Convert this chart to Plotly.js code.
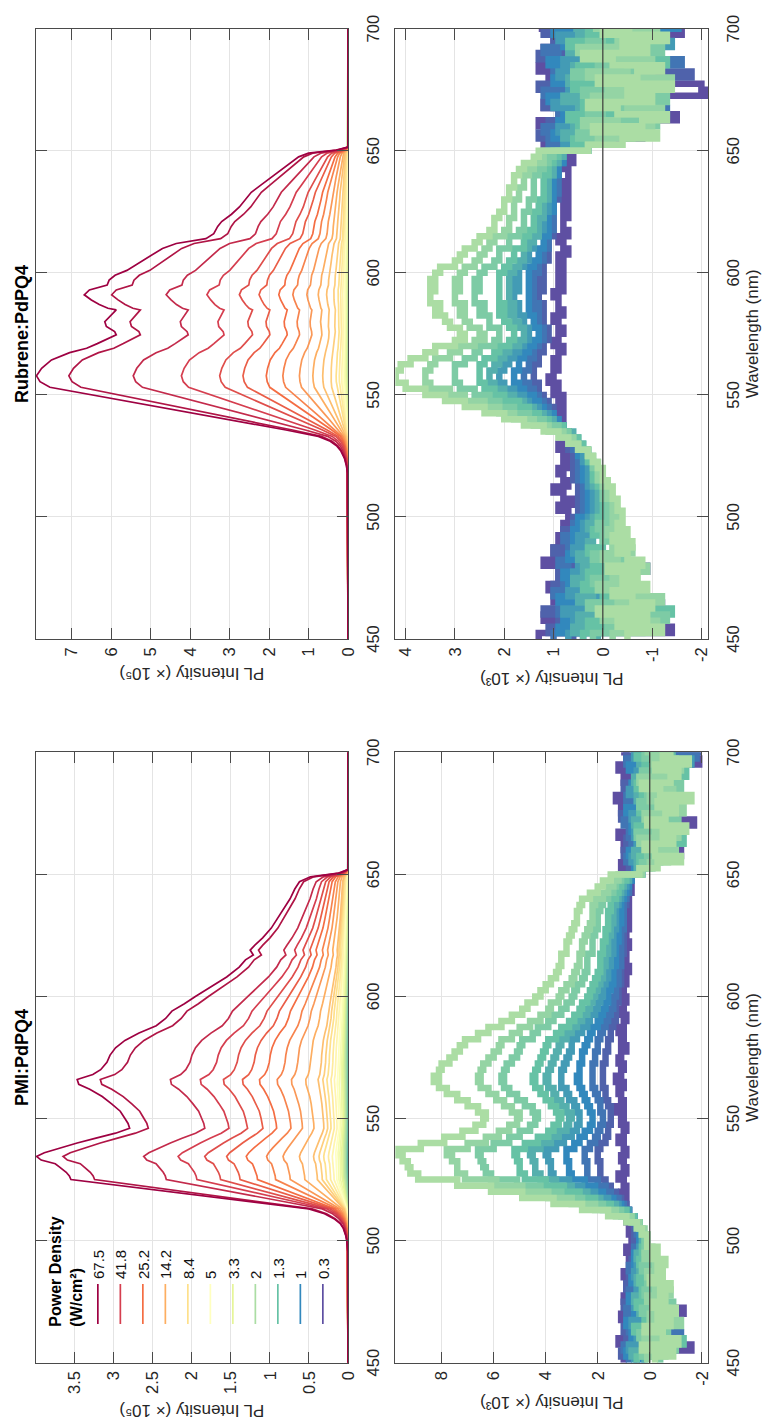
<!DOCTYPE html>
<html>
<head>
<meta charset="utf-8">
<script src="https://cdn.plot.ly/plotly-3.0.1.min.js"></script>
<style>
  html, body { margin: 0; padding: 0; background: #fff; width: 762px; height: 1425px; overflow: hidden; }
  #wrap { position: absolute; left: 0; top: 0; width: 1425px; height: 762px; transform-origin: 0 0; }
  #chart { width: 1425px; height: 762px; }
</style>
</head>
<body>
<div id="wrap"><div id="chart"></div></div>
<script>
// ---------------- data ----------------
const wavelengthTicks = [450, 500, 550, 600, 650, 700];
const powerLegend = ['67.5', '41.8', '25.2', '14.2', '8.4', '5', '3.3', '2', '1.3', '1', '0.3'];

// PMI:PdPQ4 spectra: wavelength grid and the highest-power curve (x10^5)
const pmiSpecWl = [450,495,500,502,505,507,509,511,513,515,517,519,521,523,525,526.5,528,530,531.5,533,
  534.5,536,538,540,542,544,546,548,550,553,556,559,562,564,566,568,570,573,576,579,
  582,585,588,591,594,597,600,604,608,612,615,617,619,621,624,628,632,636,640,644,
  647,649,650.5,652,700];
const pmiTopCurve = [0,0,0.016,0.028,0.06,0.10,0.18,0.30,0.50,1.0,1.51,2.03,2.55,3.06,3.54,3.56,3.60,3.68,3.74,3.92,
  3.98,3.88,3.68,3.46,3.22,2.97,2.79,2.81,2.85,2.91,3.02,3.14,3.30,3.44,3.46,3.26,3.16,3.08,3.04,2.97,
  2.85,2.67,2.45,2.33,2.25,2.09,1.95,1.75,1.55,1.39,1.31,1.21,1.25,1.19,1.09,0.98,0.90,0.82,0.74,0.68,
  0.62,0.48,0.12,0,0];
// main-peak height of each of the 31 PMI curves (x10^5), highest power first
const pmiPeaks = [3.98,3.64,2.61,2.17,1.83,1.55,1.30,1.04,0.83,0.62,0.44,0.37,0.31,0.25,0.20,0.16,0.13,0.105,0.085,0.068,
  0.052,0.040,0.030,0.023,0.017,0.013,0.010,0.008,0.006,0.004,0.002];

// Rubrene:PdPQ4 spectra
const rubSpecWl = [450,510,515,518,521,524,527,529,531,533,535.6,538,540,542,544,546,548,550,553.1,555.4,
  557.8,560.9,564.3,567.3,569.1,571,573.2,574.6,575.9,578,580,582.5,584.8,585.5,587,588.9,591,593,595,597,
  599,601,604,607,610,612,614,616,619,621,624,627,630,633,636,639,642,645,647.5,649,650.3,651.5,700];
const rubTopCurve = [0,0,0.005,0.015,0.04,0.09,0.18,0.28,0.45,0.75,1.57,2.39,3.07,3.76,4.44,5.12,5.81,6.49,7.55,7.80,
  7.89,7.76,7.51,7.05,6.62,6.35,6.03,5.87,5.91,6.12,6.16,6.0,5.87,6.08,6.3,6.5,6.68,6.55,6.1,6.05,
  5.9,5.6,5.3,5.0,4.7,4.35,3.6,3.4,3.3,3.2,2.95,2.75,2.6,2.45,2.2,1.95,1.7,1.45,1.25,1.0,0.3,0,0];
const rubPeaks = [7.89,7.07,5.44,4.22,3.25,2.66,2.07,1.65,1.23,0.89,0.64,0.43,0.30,0.22,0.16,0.12,0.09,0.07,0.055,0.043,
  0.033,0.025,0.019,0.014,0.010,0.008,0.006,0.004,0.003,0.002,0.001];

// difference spectra (x10^3), 2.5 nm bins, ten lowest powers (2 ... 0.3 W/cm2)
const diffWl = [450,452.5,455,457.5,460,462.5,465,467.5,470,472.5,475,477.5,480,482.5,485,487.5,490,492.5,495,497.5,
  500,502.5,505,507.5,510,512.5,515,517.5,520,522.5,525,527.5,530,532.5,535,537.5,540,542.5,545,547.5,
  550,552.5,555,557.5,560,562.5,565,567.5,570,572.5,575,577.5,580,582.5,585,587.5,590,592.5,595,597.5,
  600,602.5,605,607.5,610,612.5,615,617.5,620,622.5,625,627.5,630,632.5,635,637.5,640,642.5,645,647.5,
  650,652.5,655,657.5,660,662.5,665,667.5,670,672.5,675,677.5,680,682.5,685,687.5,690,692.5,695,697.5,700];

const pmiDiffSeries = [
  [-0.2,-0.9,0.3,-1.1,-0.5,0.2,-0.8,-0.3,-1.0,-0.1,-0.6,-0.4,-0.8,0.0,-0.5,-0.3,-0.6,-0.1,-0.3,0.1,
   0.1,0.3,0.5,0.9,1.6,2.6,3.7,4.9,6.1,7.4,8.9,9.2,9.3,9.5,9.7,8.8,7.9,7.2,6.7,6.4,6.3,6.6,7.0,7.4,7.8,8.1,8.3,8.1,8.0,7.7,
   7.5,7.3,7.1,6.6,6.2,5.7,5.3,4.9,4.7,4.4,4.2,4.0,3.8,3.6,3.5,3.4,3.4,3.2,3.2,3.1,3.0,2.9,2.8,2.8,2.7,2.6,2.3,2.0,1.8,1.5,0.4,
   -0.3,-1.2,-0.2,0.2,-0.9,-0.5,-1.4,0.1,-0.6,-1.0,-0.3,-1.6,-0.4,0.3,-0.8,-1.1,-0.2,-1.5,-0.5,-0.9],
  [0.1,-0.6,-0.2,-0.9,0.2,-0.4,-1.2,0.0,-0.7,-0.3,0.1,-0.8,-0.2,-0.5,0.1,-0.4,-0.2,0.2,-0.1,0.1,
   0.1,0.2,0.4,0.7,1.3,2.1,3.0,3.9,4.9,5.9,7.1,7.4,7.4,7.6,7.8,7.0,6.3,5.8,5.4,5.1,5.0,5.3,5.6,5.9,6.2,6.5,6.6,6.5,6.4,6.2,
   6.0,5.8,5.7,5.3,5.0,4.6,4.2,3.9,3.8,3.5,3.4,3.2,3.0,2.9,2.8,2.7,2.7,2.6,2.6,2.5,2.4,2.3,2.2,2.2,2.2,2.1,1.8,1.6,1.4,1.2,0.3,
   0.0,-0.7,-1.0,-0.3,0.4,-1.1,-0.2,-0.6,0.2,-1.3,-0.5,0.0,-0.9,-0.4,0.4,-0.7,-1.2,-0.1,-0.8,0.2],
  [-0.4,0.3,-1.0,-0.2,0.4,-0.7,0.0,-0.5,0.3,-0.9,-0.1,0.2,-0.6,0.1,-0.3,0.3,-0.2,0.0,0.2,0.2,
   0.1,0.3,0.4,0.7,1.1,1.8,2.6,3.4,4.2,5.1,6.1,6.3,6.4,6.5,6.6,6.0,5.4,5.0,4.6,4.4,4.3,4.5,4.8,5.1,5.4,5.6,5.7,5.6,5.5,5.3,
   5.1,5.0,4.9,4.5,4.3,3.9,3.7,3.4,3.2,3.0,2.9,2.8,2.6,2.5,2.4,2.4,2.4,2.2,2.2,2.2,2.1,2.0,2.0,2.0,1.9,1.8,1.6,1.4,1.3,1.1,0.3,
   0.3,-0.4,0.1,-0.9,-0.2,0.5,-0.6,-1.1,0.0,-0.3,0.4,-0.8,0.1,-1.2,-0.2,0.3,-0.5,-1.0,0.2,-0.4],
  [0.5,-0.3,0.2,-1.3,0.1,0.6,-0.4,0.2,-0.2,0.5,-0.6,0.3,0.0,0.4,-0.2,0.2,0.4,0.1,0.3,0.2,
   0.2,0.3,0.4,0.6,0.9,1.5,2.1,2.7,3.3,4.0,4.8,5.0,5.0,5.1,5.2,4.8,4.3,3.9,3.7,3.5,3.4,3.6,3.8,4.0,4.2,4.4,4.5,4.4,4.3,4.2,
   4.1,4.0,3.9,3.6,3.4,3.1,2.9,2.7,2.6,2.4,2.3,2.2,2.1,2.0,1.9,1.9,1.9,1.8,1.8,1.7,1.7,1.6,1.6,1.6,1.5,1.5,1.3,1.2,1.1,0.9,0.3,
   -0.1,0.4,-0.6,0.2,-1.3,0.1,0.5,-0.4,-0.9,0.4,-0.2,0.3,-0.7,0.5,-0.3,-1.4,0.2,-0.3,0.5,-1.0],
  [0.2,0.7,-0.5,0.3,-0.1,0.5,0.0,-0.8,0.4,0.1,0.6,-0.2,0.3,0.5,0.0,0.4,0.2,0.5,0.2,0.3,
   0.2,0.3,0.4,0.6,0.9,1.3,1.9,2.4,3.0,3.6,4.2,4.4,4.4,4.5,4.6,4.2,3.8,3.5,3.2,3.1,3.0,3.2,3.4,3.6,3.7,3.9,4.0,3.9,3.8,3.7,
   3.6,3.5,3.4,3.2,3.0,2.8,2.6,2.4,2.3,2.2,2.1,2.0,1.9,1.8,1.8,1.7,1.7,1.6,1.6,1.6,1.5,1.5,1.4,1.4,1.4,1.3,1.2,1.1,1.0,0.8,0.3,
   0.5,-0.2,0.6,-0.5,0.3,-0.8,0.2,0.6,-0.3,0.1,-1.2,0.5,0.2,-0.6,0.6,0.0,-0.9,0.4,-0.4,0.3],
  [0.6,-0.2,0.8,0.1,0.5,-0.4,0.7,0.3,0.0,0.6,0.2,0.5,-0.3,0.4,0.6,0.1,0.5,0.3,0.4,0.3,
   0.2,0.3,0.4,0.6,0.8,1.2,1.6,2.1,2.6,3.1,3.7,3.8,3.8,3.9,4.0,3.6,3.3,3.0,2.8,2.7,2.7,2.8,2.9,3.1,3.2,3.4,3.4,3.4,3.3,3.2,
   3.1,3.0,3.0,2.8,2.6,2.4,2.3,2.1,2.0,1.9,1.8,1.8,1.7,1.6,1.6,1.5,1.5,1.4,1.4,1.4,1.4,1.3,1.3,1.3,1.3,1.2,1.1,1.0,0.9,0.8,0.3,
   0.2,0.7,-0.3,0.5,0.0,0.6,-1.0,0.3,0.7,-0.4,0.4,-0.2,0.8,0.1,-0.5,0.5,0.2,-1.6,0.6,0.0],
  [0.3,0.9,0.2,-0.6,0.7,0.4,0.9,-0.2,0.6,0.3,0.8,0.1,0.5,0.7,0.2,0.6,0.4,0.6,0.3,0.4,
   0.3,0.4,0.5,0.6,0.8,1.1,1.4,1.8,2.1,2.5,3.0,3.1,3.1,3.2,3.2,2.9,2.7,2.5,2.3,2.2,2.2,2.3,2.4,2.5,2.6,2.7,2.8,2.7,2.7,2.6,
   2.6,2.5,2.4,2.3,2.2,2.0,1.9,1.8,1.7,1.6,1.6,1.5,1.4,1.4,1.4,1.3,1.3,1.3,1.3,1.2,1.2,1.2,1.1,1.1,1.1,1.1,1.0,0.9,0.8,0.7,0.3,
   0.6,0.0,0.8,-0.8,0.5,0.2,0.7,-0.3,0.4,0.9,-0.6,0.5,0.1,0.7,-1.1,0.4,0.8,0.2,-0.2,0.6],
  [0.8,0.4,1.0,0.5,-1.2,0.8,0.3,0.7,0.9,0.2,0.6,0.8,0.4,0.7,0.5,0.8,0.5,0.4,0.6,0.4,
   0.4,0.5,0.5,0.6,0.8,1.0,1.2,1.5,1.7,2.0,2.4,2.4,2.4,2.5,2.5,2.3,2.1,2.0,1.9,1.8,1.8,1.9,1.9,2.0,2.1,2.2,2.2,2.2,2.2,2.1,
   2.1,2.0,2.0,1.9,1.8,1.7,1.6,1.5,1.4,1.4,1.3,1.3,1.2,1.2,1.2,1.1,1.1,1.1,1.1,1.1,1.1,1.0,1.0,1.0,1.0,1.0,0.9,0.8,0.8,0.7,0.3,
   0.4,0.9,0.1,0.7,-0.4,0.8,0.3,1.0,-0.9,0.5,0.2,0.9,-0.3,0.6,0.4,-0.7,0.7,0.9,-1.8,0.5],
  [0.5,1.1,0.6,0.9,0.4,1.0,0.6,0.2,0.8,1.0,0.5,0.7,0.9,0.3,0.8,0.6,0.7,0.5,0.6,0.5,
   0.6,0.6,0.6,0.7,0.8,0.9,1.1,1.3,1.5,1.7,1.9,1.9,1.9,2.0,2.0,1.9,1.7,1.6,1.6,1.5,1.5,1.5,1.6,1.7,1.7,1.8,1.8,1.8,1.8,1.7,
   1.7,1.6,1.6,1.5,1.5,1.4,1.3,1.3,1.3,1.2,1.2,1.2,1.1,1.1,1.1,1.1,1.1,1.0,1.0,1.0,1.0,1.0,1.0,1.0,1.0,0.9,0.9,0.8,0.8,0.8,0.4,
   0.8,0.3,1.0,0.5,0.9,-0.2,0.7,0.4,1.1,0.6,-0.5,0.8,0.3,1.0,0.6,0.2,-1.0,0.7,0.9,-2.0],
  [1.0,0.6,-1.6,1.2,0.7,0.9,0.5,1.1,-1.3,0.8,1.0,0.6,0.9,0.7,1.0,0.5,0.8,0.7,0.9,0.6,
   0.7,0.8,0.8,0.9,0.8,1.0,0.9,1.1,0.9,1.0,1.2,0.9,1.0,1.1,0.9,1.0,1.2,1.0,0.9,1.1,1.0,1.3,1.0,1.1,1.2,1.0,1.3,1.1,1.0,1.2,
   1.1,0.9,1.1,1.0,1.2,1.0,0.9,1.1,1.0,0.9,1.0,1.1,0.9,1.0,0.8,1.0,0.9,1.0,0.8,0.9,1.0,0.8,0.9,0.8,0.9,0.8,0.9,0.7,0.8,0.7,0.4,
   1.1,0.6,-1.2,1.0,0.7,1.2,0.4,-1.7,0.9,1.1,0.6,1.3,-0.8,0.8,1.0,0.5,1.2,-1.9,0.9,1.1]
];

const rubDiffSeries = [
  [-0.5,-1.2,-0.3,-0.9,0.1,-1.0,-0.6,-0.2,-0.9,-0.4,-0.7,-0.1,-0.8,-0.5,-0.3,-0.6,-0.2,-0.5,-0.3,-0.4,
   -0.4,-0.3,-0.3,-0.2,-0.2,-0.1,0.0,0.0,0.1,0.2,0.3,0.5,0.7,0.9,1.2,1.6,2.0,2.4,2.8,3.2,3.6,4.0,4.2,4.2,4.1,3.9,3.6,3.4,3.0,2.8,
   2.9,3.1,3.2,3.4,3.3,3.5,3.5,3.4,3.5,3.4,3.3,3.0,2.9,2.8,2.6,2.5,2.3,2.2,2.2,2.1,2.0,2.0,1.9,1.9,1.8,1.8,1.7,1.6,1.4,1.3,0.3,
   -0.4,-1.1,0.2,-0.8,-1.3,-0.3,0.3,-1.0,-0.5,-1.4,0.1,-0.7,-1.2,-0.2,0.4,-0.9,-0.4,-1.3,0.0,-0.6],
  [-0.2,-0.8,-1.1,0.0,-0.5,-0.3,-1.2,-0.6,0.1,-0.7,-0.2,-0.9,-0.3,0.0,-0.6,-0.2,-0.4,-0.1,-0.3,-0.2,
   -0.3,-0.2,-0.2,-0.1,-0.1,0.0,0.1,0.1,0.1,0.2,0.3,0.5,0.6,0.8,1.1,1.4,1.8,2.1,2.4,2.8,3.1,3.5,3.6,3.6,3.5,3.4,3.1,2.9,2.6,2.4,
   2.5,2.7,2.8,2.9,2.8,3.0,3.0,2.9,3.0,2.9,2.8,2.6,2.5,2.4,2.3,2.2,2.0,1.9,1.9,1.8,1.8,1.8,1.7,1.7,1.6,1.6,1.5,1.4,1.2,1.2,0.3,
   0.1,-0.6,-1.0,0.4,-0.3,-1.2,-0.5,0.2,-0.9,-0.1,-1.4,0.3,-0.5,-1.0,-0.2,0.5,-0.8,-0.3,-1.1,0.2],
  [0.2,-0.5,-0.1,-1.3,-0.3,0.3,-0.8,-0.2,-0.5,0.2,-0.6,-0.1,-0.4,0.2,-0.2,-0.5,0.0,-0.2,0.1,-0.1,
   -0.2,-0.1,-0.1,0.0,0.0,0.0,0.1,0.1,0.2,0.2,0.3,0.5,0.6,0.7,0.9,1.2,1.5,1.8,2.1,2.3,2.6,2.9,3.0,3.0,3.0,2.8,2.6,2.5,2.2,2.1,
   2.1,2.3,2.3,2.5,2.4,2.6,2.6,2.5,2.6,2.5,2.4,2.2,2.1,2.1,1.9,1.9,1.7,1.6,1.6,1.6,1.5,1.5,1.4,1.4,1.4,1.4,1.3,1.2,1.1,1.0,0.3,
   -0.2,0.5,-0.4,-1.1,0.3,0.0,-0.7,-1.3,0.4,-0.5,-0.2,0.6,-1.0,0.1,-0.6,-1.2,0.3,0.0,-0.4,-1.0],
  [0.4,-0.2,0.3,-0.4,-1.4,0.2,0.0,-0.6,0.4,-0.1,0.3,-0.5,0.2,-0.1,0.3,0.0,-0.3,0.2,0.0,0.1,
   -0.1,0.0,0.0,0.0,0.0,0.1,0.2,0.2,0.2,0.3,0.3,0.4,0.5,0.7,0.8,1.1,1.3,1.5,1.7,2.0,2.2,2.4,2.5,2.5,2.5,2.4,2.2,2.1,1.9,1.8,
   1.8,1.9,2.0,2.1,2.0,2.1,2.1,2.1,2.1,2.1,2.0,1.9,1.8,1.8,1.6,1.6,1.5,1.4,1.4,1.4,1.3,1.3,1.2,1.2,1.2,1.2,1.1,1.1,1.0,0.9,0.3,
   0.6,-0.1,0.5,-0.2,0.7,-0.9,0.4,-0.3,0.1,0.6,-0.7,0.2,0.5,-1.3,0.4,-0.1,0.7,-0.6,0.3,0.0],
  [0.1,0.6,-0.3,0.5,0.0,-0.7,0.5,0.2,-0.2,0.6,0.1,0.4,-0.3,0.5,0.1,0.3,0.2,-0.1,0.3,0.2,
   0.0,0.1,0.1,0.1,0.1,0.2,0.2,0.2,0.2,0.3,0.3,0.4,0.5,0.6,0.8,1.0,1.2,1.4,1.6,1.8,2.0,2.2,2.3,2.3,2.2,2.1,2.0,1.9,1.7,1.6,
   1.6,1.7,1.8,1.9,1.8,1.9,1.9,1.9,1.9,1.9,1.8,1.7,1.6,1.6,1.5,1.4,1.3,1.3,1.3,1.2,1.2,1.2,1.1,1.1,1.1,1.1,1.0,1.0,0.9,0.8,0.3,
   0.3,0.8,-0.5,0.6,0.1,0.5,-0.3,0.8,-1.1,0.4,0.7,-0.2,0.6,0.3,-0.9,0.7,0.1,0.5,-0.4,0.6],
  [0.7,0.2,0.6,-0.2,0.8,0.3,0.1,0.7,-0.5,0.4,0.6,0.2,0.5,0.0,0.6,0.3,0.5,0.2,0.4,0.3,
   0.1,0.2,0.2,0.2,0.2,0.3,0.3,0.3,0.3,0.4,0.4,0.5,0.6,0.7,0.8,1.0,1.1,1.3,1.5,1.6,1.8,2.0,2.1,2.1,2.0,1.9,1.8,1.7,1.6,1.5,
   1.5,1.6,1.6,1.7,1.7,1.8,1.8,1.7,1.8,1.7,1.7,1.6,1.5,1.5,1.4,1.4,1.3,1.2,1.2,1.2,1.1,1.1,1.1,1.1,1.1,1.1,1.0,1.0,0.9,0.8,0.3,
   0.8,0.2,0.9,-0.3,0.6,0.4,1.0,0.0,0.7,-0.8,0.5,0.9,-0.5,0.8,0.3,0.6,-1.4,0.9,0.4,0.2],
  [0.4,0.9,0.3,0.8,0.5,-0.3,0.9,0.4,0.7,0.2,0.8,0.5,0.3,0.7,0.4,0.6,0.3,0.6,0.4,0.5,
   0.2,0.3,0.2,0.3,0.3,0.3,0.4,0.3,0.4,0.4,0.5,0.5,0.6,0.7,0.8,0.9,1.0,1.2,1.3,1.4,1.6,1.7,1.8,1.8,1.7,1.7,1.6,1.5,1.4,1.3,
   1.3,1.4,1.4,1.5,1.5,1.5,1.5,1.5,1.5,1.5,1.5,1.4,1.3,1.3,1.2,1.2,1.1,1.1,1.1,1.1,1.0,1.0,1.0,1.0,1.0,1.0,0.9,0.9,0.8,0.8,0.4,
   0.5,1.0,0.3,0.9,-0.6,0.8,0.2,1.1,0.6,0.3,1.0,-0.4,0.7,1.1,0.5,-1.0,0.8,0.3,1.0,-1.6],
  [1.0,0.5,0.8,0.2,0.9,0.7,0.4,1.0,0.6,0.8,-0.6,0.7,0.9,0.5,0.7,0.4,0.8,0.5,0.6,0.5,
   0.3,0.4,0.3,0.4,0.4,0.4,0.5,0.4,0.5,0.5,0.5,0.6,0.6,0.7,0.8,0.9,1.0,1.1,1.2,1.3,1.4,1.5,1.6,1.6,1.5,1.5,1.4,1.4,1.3,1.2,
   1.2,1.3,1.3,1.4,1.3,1.4,1.4,1.4,1.4,1.4,1.3,1.3,1.2,1.2,1.1,1.1,1.1,1.0,1.0,1.0,1.0,1.0,1.0,0.9,0.9,0.9,0.9,0.9,0.8,0.8,0.5,
   1.1,0.4,1.2,0.6,0.9,-1.3,0.7,0.5,1.2,0.8,-0.5,1.0,0.6,-1.6,0.9,1.2,0.4,0.8,-0.9,1.0],
  [0.6,1.1,0.9,0.7,1.2,0.5,0.8,0.6,1.0,0.7,0.9,0.5,0.8,0.6,1.0,0.7,0.6,0.8,0.6,0.6,
   0.5,0.5,0.5,0.5,0.5,0.5,0.6,0.5,0.6,0.6,0.6,0.7,0.7,0.7,0.8,0.9,1.0,1.0,1.1,1.2,1.3,1.3,1.4,1.4,1.4,1.3,1.3,1.2,1.2,1.1,
   1.1,1.2,1.2,1.2,1.2,1.3,1.3,1.2,1.3,1.2,1.2,1.2,1.1,1.1,1.1,1.1,1.0,1.0,1.0,1.0,1.0,1.0,0.9,0.9,0.9,0.9,0.9,0.9,0.8,0.8,0.6,
   0.7,1.3,0.5,1.1,0.8,0.4,1.2,-1.0,0.9,1.3,0.6,-1.8,1.0,0.7,1.3,-0.6,1.0,0.5,1.2,0.8],
  [1.3,-1.4,0.8,1.2,0.6,-1.2,1.0,0.7,1.1,0.5,0.9,-0.9,1.2,0.8,1.0,0.6,0.9,0.7,0.8,0.7,
   0.7,0.9,0.6,0.8,1.0,0.7,0.8,0.9,0.6,0.8,0.7,0.9,0.8,0.7,0.9,0.8,1.0,0.8,0.9,0.8,1.0,0.9,1.1,1.0,0.9,1.0,0.9,0.8,1.0,0.9,
   0.8,0.9,1.0,0.8,0.9,0.9,1.0,0.8,0.9,0.8,0.9,0.8,0.9,0.7,0.8,0.9,0.7,0.8,0.8,0.7,0.8,0.7,0.8,0.7,0.8,0.7,0.7,0.8,0.6,0.7,0.5,
   1.2,-0.8,1.0,1.3,-1.5,0.9,1.2,0.6,-2.1,-2.0,1.1,0.8,1.3,-1.1,0.9,1.2,-0.7,1.0,-1.6,1.3]
];

// axis tick values / labels
const pmiSpecTicks = [0, 0.5, 1, 1.5, 2, 2.5, 3, 3.5];
const pmiSpecTickText = ['0', '0.5', '1', '1.5', '2', '2.5', '3', '3.5'];
const rubSpecTicks = [0, 1, 2, 3, 4, 5, 6, 7];
const pmiDiffTicks = [-2, 0, 2, 4, 6, 8];
const pmiDiffTickText = ['-2', '0', '2', '4', '6', '8'];
const rubDiffTicks = [-2, -1, 0, 1, 2, 3, 4];
const rubDiffTickText = ['-2', '-1', '0', '1', '2', '3', '4'];

// ---------------- styling ----------------
const spectral = ['#9e0142','#d53e4f','#f46d43','#fdae61','#fee08b','#ffffbf','#e6f598','#abdda4','#66c2a5','#3288bd','#5e4fa2'];
function hexToRgb(h) { return [parseInt(h.slice(1,3),16), parseInt(h.slice(3,5),16), parseInt(h.slice(5,7),16)]; }
function colorAt(i) {            // 31 curves -> Spectral colormap
  const t = i / 3, a = Math.floor(t), f = t - a;
  if (a >= 10) return spectral[10];
  const c0 = hexToRgb(spectral[a]), c1 = hexToRgb(spectral[a + 1]);
  const c = c0.map((v, k) => Math.round(v + (c1[k] - v) * f));
  return 'rgb(' + c.join(',') + ')';
}

const FONT = 'Liberation Sans, Arial, Helvetica, sans-serif';
const traces = [];

function addSpectra(wl, top, peaks, xa, ya, withLegend) {
  for (let i = peaks.length - 1; i >= 0; i--) {
    const k = peaks[i] / peaks[0];
    const inLegend = withLegend && i % 3 === 0;
    traces.push({
      type: 'scatter', mode: 'lines', x: wl, y: top.map(v => v * k),
      xaxis: xa, yaxis: ya, hoverinfo: 'skip',
      name: inLegend ? powerLegend[i / 3] : 'curve ' + i, showlegend: inLegend,
      line: { color: colorAt(i), width: 1.7 }
    });
  }
}
function addDiff(series, xa, ya) {
  for (let j = series.length - 1; j >= 0; j--) {
    traces.push({
      type: 'scatter', mode: 'lines', x: diffWl, y: series[j],
      xaxis: xa, yaxis: ya, hoverinfo: 'skip', showlegend: false, name: 'diff ' + j,
      line: { color: colorAt(21 + j), width: 6.5, shape: 'hv' }
    });
  }
}
addSpectra(pmiSpecWl, pmiTopCurve, pmiPeaks, 'x', 'y', true);
addSpectra(rubSpecWl, rubTopCurve, rubPeaks, 'x2', 'y2', false);
addDiff(pmiDiffSeries, 'x3', 'y3');
addDiff(rubDiffSeries, 'x4', 'y4');

const W = 1425, H = 762;
const colL = [62.3 / W, 672.7 / W], colR = [786 / W, 1396.3 / W];
const rowT = [1 - 348 / H, 1 - 35.7 / H], rowB = [1 - 708.3 / H, 1 - 395.3 / H];

function ax(extra) {
  return Object.assign({
    showline: true, mirror: 'ticks', linecolor: '#4a4a4a', linewidth: 1,
    ticks: 'inside', ticklen: 11, tickwidth: 1, tickcolor: '#4a4a4a',
    showgrid: true, gridcolor: '#e4e4e4', gridwidth: 1, zeroline: false,
    tickfont: { family: FONT, size: 16.5, color: '#262626' }, fixedrange: true
  }, extra);
}
const wlAxis = (dom, anchor, withTitle) => {
  const a = ax({
    domain: dom, anchor: anchor, range: [450, 700], tickvals: wavelengthTicks,
    ticktext: wavelengthTicks.map(String), ticklabelstandoff: 10
  });
  if (withTitle) a.title = { text: 'Wavelength (nm)', font: { family: FONT, size: 17, color: '#262626' }, standoff: 17 };
  return a;
};
const yTitle = (sup) => ({ text: 'PL Intensity (\u00d7 10' + sup + ')', font: { family: FONT, size: 17, color: '#262626' }, standoff: 6 });

const layout = {
  width: W, height: H, margin: { l: 0, r: 0, t: 0, b: 0 },
  paper_bgcolor: '#fff', plot_bgcolor: '#fff', font: { family: FONT, color: '#262626' },
  xaxis: wlAxis(colL, 'y', false),
  yaxis: ax({ domain: rowT, anchor: 'x', range: [0, 3.99], tickvals: pmiSpecTicks, ticktext: pmiSpecTickText, ticklabelstandoff: 4, title: yTitle('\u2075') }),
  xaxis2: wlAxis(colR, 'y2', false),
  yaxis2: ax({ domain: rowT, anchor: 'x2', range: [0, 7.91], tickvals: rubSpecTicks, ticktext: rubSpecTicks.map(String), ticklabelstandoff: 4, title: yTitle('\u2075') }),
  xaxis3: wlAxis(colL, 'y3', true),
  yaxis3: ax({ domain: rowB, anchor: 'x3', range: [-2.25, 9.78], tickvals: pmiDiffTicks, ticktext: pmiDiffTickText, ticklabelstandoff: 4, title: yTitle('\u00b3') }),
  xaxis4: wlAxis(colR, 'y4', true),
  yaxis4: ax({ domain: rowB, anchor: 'x4', range: [-2.14, 4.21], tickvals: rubDiffTicks, ticktext: rubDiffTickText, ticklabelstandoff: 4, title: yTitle('\u00b3') }),
  shapes: [
    { type: 'line', xref: 'x3 domain', x0: 0, x1: 1, yref: 'y3', y0: 0, y1: 0, layer: 'above', line: { color: '#3a3a3a', width: 1.2 } },
    { type: 'line', xref: 'x4 domain', x0: 0, x1: 1, yref: 'y4', y0: 0, y1: 0, layer: 'above', line: { color: '#3a3a3a', width: 1.2 } }
  ],
  annotations: [
    { text: '<b>PMI:PdPQ4</b>', xref: 'paper', yref: 'paper', x: (colL[0] + colL[1]) / 2, y: 1 - 22 / H, xanchor: 'center', yanchor: 'middle', showarrow: false, font: { family: FONT, size: 18, color: '#000' } },
    { text: '<b>Rubrene:PdPQ4</b>', xref: 'paper', yref: 'paper', x: (colR[0] + colR[1]) / 2, y: 1 - 22 / H, xanchor: 'center', yanchor: 'middle', showarrow: false, font: { family: FONT, size: 18, color: '#000' } }
  ],
  showlegend: true,
  legend: {
    x: 96 / W, xanchor: 'left', y: 1 - 40 / H, yanchor: 'top',
    bgcolor: 'rgba(0,0,0,0)', borderwidth: 0, traceorder: 'reversed',
    itemwidth: 40, tracegroupgap: 0,
    font: { family: FONT, size: 15, color: '#111' },
    title: { text: '<b>Power Density</b><br><b>(W/cm\u00b2)</b>', side: 'top center', font: { family: FONT, size: 16, color: '#000' } }
  }
};

Plotly.newPlot('chart', traces, layout, { staticPlot: true, displayModeBar: false }).then(function () {
  const wrap = document.getElementById('wrap');
  wrap.style.transform = 'translateY(1425px) rotate(-90deg)';
});
</script>
</body>
</html>
